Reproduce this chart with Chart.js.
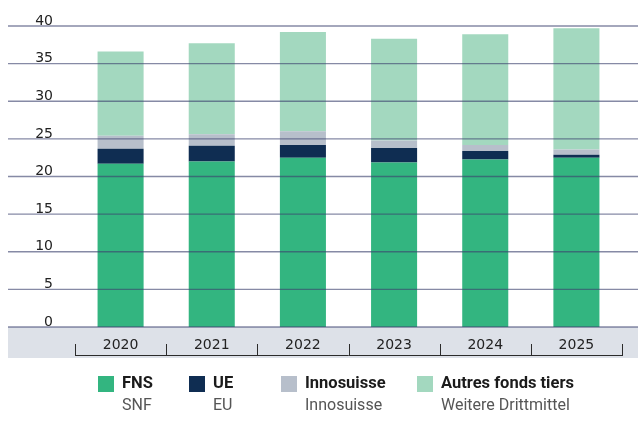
<!DOCTYPE html>
<html>
<head>
<meta charset="utf-8">
<script src="https://cdn.jsdelivr.net/npm/chart.js@4"></script>
<style>
  html, body { margin: 0; padding: 0; background: #fff; }
  #wrap { position: relative; width: 638px; height: 421px; }
  #chart { position: absolute; left: 0; top: 0; }
  .legend-item { position: absolute; top: 376px; font-family: Roboto, sans-serif; }
  .legend-item .box { position: absolute; left: 0; top: 0; width: 16px; height: 16px; }
  .legend-item .t1 { position: absolute; left: 24px; top: -3px; font-size: 16.5px; font-weight: 700; color: #1b1b1b; white-space: nowrap; }
  .legend-item .t2 { position: absolute; left: 24px; top: 19px; font-size: 16px; color: #555; white-space: nowrap; }
</style>
</head>
<body>
<div id="wrap">
  <canvas id="chart" width="638" height="421"></canvas>
</div>
<script>
const years = ['2020', '2021', '2022', '2023', '2024', '2025'];
const fns = [21.7, 22.0, 22.5, 21.85, 22.25, 22.5];
const ue = [2.0, 2.1, 1.7, 1.95, 1.15, 0.4];
const innosuisse = [1.7, 1.5, 1.8, 1.0, 0.8, 0.7];
const autres = [11.2, 12.1, 13.2, 13.5, 14.7, 16.1];
const yTicks = [0, 5, 10, 15, 20, 25, 30, 35, 40];

const seriesNames = ['FNS', 'UE', 'Innosuisse', 'Autres fonds tiers'];
const seriesNamesDe = ['SNF', 'EU', 'Innosuisse', 'Weitere Drittmittel'];
const colors = ['#33b580', '#0f2d52', '#b7bfcb', '#a3d8bf'];
const legendLeft = [98, 189, 281, 417];

// gray band under the plot + bracket marks between years
const bandPlugin = {
    id: 'band',
    beforeDraw(chart) {
        const ctx = chart.ctx;
        const area = chart.chartArea;
        ctx.save();
        ctx.fillStyle = '#dde1e8';
        ctx.fillRect(8, area.bottom, chart.width - 8, 31);
        const x = chart.scales.x;
        const step = (x.right - x.left) / years.length;
        ctx.strokeStyle = '#2b2b2b';
        ctx.lineWidth = 1;
        ctx.beginPath();
        ctx.moveTo(x.left, area.bottom + 28.5);
        ctx.lineTo(x.right, area.bottom + 28.5);
        for (let i = 0; i <= years.length; i++) {
            const px = Math.round(x.left + i * step) + 0.5;
            ctx.moveTo(px, area.bottom + 17);
            ctx.lineTo(px, area.bottom + 29);
        }
        ctx.stroke();
        ctx.restore();
    }
};

// grid lines drawn over the bars, full width
const gridPlugin = {
    id: 'overGrid',
    afterDatasetsDraw(chart) {
        const ctx = chart.ctx;
        const y = chart.scales.y;
        ctx.save();
        ctx.strokeStyle = 'rgba(60, 66, 110, 0.62)';
        ctx.lineWidth = 1.3;
        yTicks.forEach(v => {
            const py = y.getPixelForValue(v);
            ctx.beginPath();
            ctx.moveTo(8, py);
            ctx.lineTo(chart.width, py);
            ctx.stroke();
        });
        ctx.restore();
    }
};

const data = [fns, ue, innosuisse, autres];

new Chart(document.getElementById('chart'), {
    type: 'bar',
    data: {
        labels: years,
        datasets: data.map((d, i) => ({
            label: seriesNames[i],
            data: d,
            backgroundColor: colors[i],
            borderWidth: 0,
            categoryPercentage: 1,
            barPercentage: 0.505
        }))
    },
    options: {
        responsive: false,
        animation: false,
        layout: { padding: { top: 26, right: 16, bottom: 63, left: 0 } },
        plugins: {
            legend: { display: false },
            tooltip: { enabled: false }
        },
        scales: {
            x: {
                stacked: true,
                grid: { display: false },
                border: { display: false },
                ticks: {
                    font: { family: 'DejaVu Sans', size: 14 },
                    color: '#222',
                    padding: 2
                },
                afterFit(scale) { scale.height = 31; }
            },
            y: {
                stacked: true,
                min: 0,
                max: 40,
                grid: { display: false, drawTicks: false },
                border: { display: false },
                ticks: {
                    stepSize: 5,
                    font: { family: 'DejaVu Sans', size: 14 },
                    color: '#222',
                    padding: 22,
                    labelOffset: -5
                },
                afterFit(scale) {
                    scale.width = 75;
                    // tick padding would otherwise push the plot top down
                    scale.paddingTop = 0;
                    scale.paddingBottom = 0;
                }
            }
        }
    },
    plugins: [bandPlugin, gridPlugin]
});

// legend (two lines per item: French / German)
const wrap = document.getElementById('wrap');
seriesNames.forEach((name, i) => {
    const item = document.createElement('div');
    item.className = 'legend-item';
    item.style.left = legendLeft[i] + 'px';
    item.innerHTML = '<div class="box" style="background:' + colors[i] + '"></div>' +
        '<div class="t1">' + name + '</div><div class="t2">' + seriesNamesDe[i] + '</div>';
    wrap.appendChild(item);
});
</script>
</body>
</html>
